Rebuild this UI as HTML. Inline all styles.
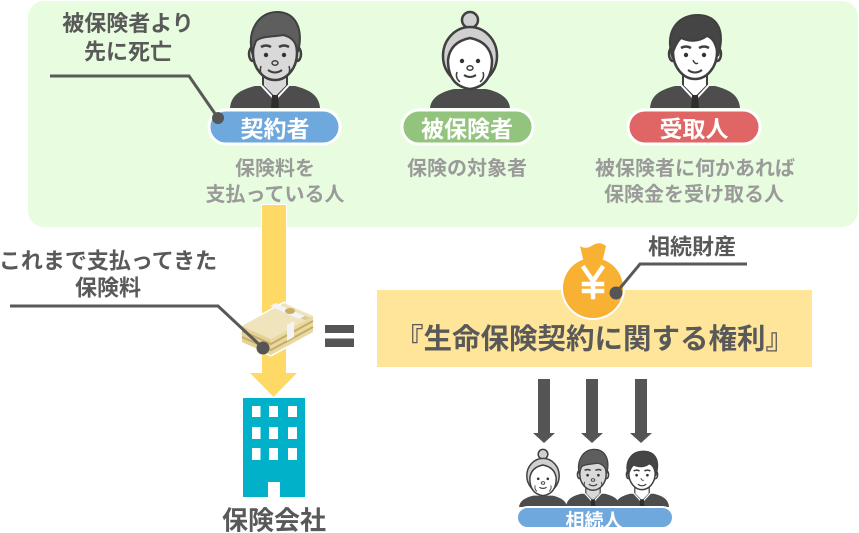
<!DOCTYPE html>
<html><head><meta charset="utf-8"><style>
html,body{margin:0;padding:0;background:#fff;}
svg{display:block;}
text{font-family:"Liberation Sans","Noto Sans CJK JP",sans-serif;font-weight:bold;}
</style></head><body>
<svg width="859" height="533" viewBox="0 0 859 533" xmlns="http://www.w3.org/2000/svg">
<defs>
 <g id="mo">
  <path d="M-45,0 C-44,-12 -36,-18 -20,-22 L20,-22 C36,-18 44,-12 45,0 Z" fill="#4d4d4d"/>
  <path d="M-12,-36 L-12,-22 L0,-10 L12,-22 L12,-36 Z" fill="#d9d9d9" stroke="#404040" stroke-width="2"/>
  <path d="M-14,-23 L0,-8 L14,-23" fill="none" stroke="#fff" stroke-width="2"/>
  <path d="M-3,-13 L3,-13 L4,0 L-4,0 Z" fill="#2e2e2e"/>
  <ellipse cx="-22" cy="-54" rx="4" ry="7" fill="#d9d9d9" stroke="#404040" stroke-width="2.5"/>
  <ellipse cx="22" cy="-54" rx="4" ry="7" fill="#d9d9d9" stroke="#404040" stroke-width="2.5"/>
  <ellipse cx="0" cy="-55" rx="22" ry="27" fill="#d9d9d9" stroke="#404040" stroke-width="2.5"/>
  <path d="M-23,-56 C-28,-78 -16,-96 2,-96 C20,-96 29,-80 23,-56 C21,-66 17,-71 8,-73 C-2,-71 -14,-72 -19,-67 Z" fill="#5e5e5e" stroke="#404040" stroke-width="2"/>
  <path d="M-14,-61 Q-9,-64 -4,-61 M4,-61 Q9,-64 14,-61" stroke="#404040" stroke-width="2.5" fill="none"/>
  <circle cx="-9" cy="-53" r="2.2" fill="#333"/><circle cx="9" cy="-53" r="2.2" fill="#333"/>
  <ellipse cx="0" cy="-45" rx="3" ry="2.2" fill="none" stroke="#404040" stroke-width="1.5"/>
  <path d="M-7,-38 Q0,-33 7,-38" fill="none" stroke="#404040" stroke-width="2"/>
  <path d="M-14,-42 Q-16,-36 -12,-32 M14,-42 Q16,-36 12,-32" fill="none" stroke="#404040" stroke-width="1.5"/>
 </g>
 <g id="wo">
  <path d="M-40,0 C-39,-10 -30,-16 -16,-19 L16,-19 C30,-16 39,-10 40,0 Z" fill="#4d4d4d"/>
  <circle cx="0" cy="-88" r="8" fill="#d0d0d0" stroke="#404040" stroke-width="2.5"/>
  <ellipse cx="0" cy="-52" rx="27" ry="29" fill="#d0d0d0" stroke="#404040" stroke-width="2.5"/>
  <path d="M-22,-48 Q-20,-66 0,-70 Q20,-66 22,-48 Q22,-22 0,-19 Q-22,-22 -22,-48 Z" fill="#fff" stroke="#404040" stroke-width="2.5"/>
  <circle cx="-8" cy="-47" r="2.2" fill="#333"/><circle cx="8" cy="-47" r="2.2" fill="#333"/>
  <ellipse cx="0" cy="-40" rx="3" ry="2.2" fill="none" stroke="#404040" stroke-width="1.5"/>
  <path d="M-6,-33 Q0,-29 6,-33" fill="none" stroke="#404040" stroke-width="2"/>
  <path d="M-13,-36 Q-15,-30 -10,-26 M13,-36 Q15,-30 10,-26" fill="none" stroke="#404040" stroke-width="1.5"/>
 </g>
 <g id="ym">
  <path d="M-45,0 C-44,-12 -36,-18 -20,-22 L20,-22 C36,-18 44,-12 45,0 Z" fill="#4d4d4d"/>
  <path d="M-12,-36 L-12,-22 L0,-10 L12,-22 L12,-36 Z" fill="#fff" stroke="#404040" stroke-width="2"/>
  <path d="M-14,-23 L0,-8 L14,-23" fill="none" stroke="#fff" stroke-width="2"/>
  <path d="M-3,-13 L3,-13 L4,0 L-4,0 Z" fill="#2e2e2e"/>
  <ellipse cx="-22" cy="-54" rx="4" ry="7" fill="#fff" stroke="#404040" stroke-width="2.5"/>
  <ellipse cx="22" cy="-54" rx="4" ry="7" fill="#fff" stroke="#404040" stroke-width="2.5"/>
  <ellipse cx="0" cy="-56" rx="22" ry="27" fill="#fff" stroke="#404040" stroke-width="2.5"/>
  <path d="M-23,-52 C-31,-80 -14,-94 4,-93 C22,-92 31,-78 23,-52 C21,-64 18,-70 12,-72 C4,-66 -6,-66 -14,-70 C-18,-66 -21,-60 -23,-52 Z" fill="#454545" stroke="#404040" stroke-width="2"/>
  <path d="M-14,-60 Q-9,-63 -4,-60 M4,-60 Q9,-63 14,-60" stroke="#404040" stroke-width="2.5" fill="none"/>
  <circle cx="-9" cy="-53" r="2.2" fill="#333"/><circle cx="9" cy="-53" r="2.2" fill="#333"/>
  <path d="M-2,-48 Q0,-43 3,-45" fill="none" stroke="#404040" stroke-width="1.5"/>
  <path d="M-7,-38 Q0,-33 7,-38" fill="none" stroke="#404040" stroke-width="2"/>
 </g>
</defs>

<!-- green panel -->
<rect x="28" y="1" width="830" height="226" rx="16" fill="#E8FDE0"/>

<!-- persons top -->
<use href="#mo" transform="translate(275,108)"/>
<use href="#wo" transform="translate(470,108)"/>
<use href="#ym" transform="translate(695,108)"/>

<!-- pills -->
<rect x="209" y="110" width="131" height="34" rx="17" fill="#6FA8DC" stroke="#fff" stroke-width="3"/>
<rect x="402" y="110" width="131" height="34" rx="17" fill="#93C47D" stroke="#fff" stroke-width="3"/>
<rect x="628" y="110" width="132" height="34" rx="17" fill="#E06666" stroke="#fff" stroke-width="3"/>
<text x="275" y="137" font-size="23" fill="#fff" text-anchor="middle">契約者</text>
<text x="467" y="137" font-size="23" fill="#fff" text-anchor="middle">被保険者</text>
<text x="694" y="137" font-size="23" fill="#fff" text-anchor="middle">受取人</text>

<!-- descriptions -->
<text x="275" y="175" font-size="20" fill="#9a9a9a" text-anchor="middle">保険料を</text>
<text x="275" y="201" font-size="20" fill="#9a9a9a" text-anchor="middle">支払っている人</text>
<text x="467" y="175" font-size="20" fill="#9a9a9a" text-anchor="middle">保険の対象者</text>
<text x="695" y="175" font-size="20" fill="#9a9a9a" text-anchor="middle">被保険者に何かあれば</text>
<text x="694" y="201" font-size="20" fill="#9a9a9a" text-anchor="middle">保険金を受け取る人</text>

<!-- label top-left -->
<text x="128" y="31" font-size="22" fill="#595959" text-anchor="middle">被保険者より</text>
<text x="128" y="59.5" font-size="22" fill="#595959" text-anchor="middle">先に死亡</text>
<polyline points="50,76 189,76 218,118" fill="none" stroke="#595959" stroke-width="3"/>
<circle cx="218" cy="118" r="6" fill="#555"/>

<!-- yellow arrow -->
<rect x="261" y="204" width="26" height="170" fill="#fff"/>
<rect x="262" y="205" width="24" height="169" fill="#FFD966"/>
<polygon points="250,373 297,373 273.5,397" fill="#FFD966"/>

<!-- money stack -->
<g stroke="#fff" stroke-width="3" stroke-linejoin="round">
 <polygon points="242,326 284,303 313,316 313,332 271,355 242,342" fill="#fff"/>
</g>
<polygon points="242,326 271,339 271,355 242,342" fill="#E3D196"/>
<polygon points="271,339 313,316 313,332 271,355" fill="#E8D8A2"/>
<polygon points="242,326 284,303 313,316 271,339" fill="#EFE4BC"/>
<g stroke="#C8AC68" stroke-width="2" fill="none">
 <path d="M242,331 L271,344 L313,321"/>
 <path d="M242,337 L271,350 L313,327"/>
</g>
<polygon points="276,307 281,305 310,318 305,320" fill="#C8AC68" opacity="0.5"/>
<polygon points="287,325 294,321 294,337 287,341" fill="#f4f4f4"/>
<polygon points="270,306 276,303 305,316 299,319" fill="#f4f4f4"/>
<ellipse cx="290" cy="311" rx="5" ry="3" fill="#C8AC68"/>
<polyline points="10,306 218,306 263,348" fill="none" stroke="#595959" stroke-width="3"/>
<circle cx="263" cy="348" r="6.5" fill="#555"/>
<text x="108" y="268.5" font-size="22" fill="#595959" text-anchor="middle">これまで支払ってきた</text>
<text x="108" y="295.5" font-size="22" fill="#595959" text-anchor="middle">保険料</text>

<!-- equals -->
<rect x="325" y="325" width="29" height="8" fill="#555"/>
<rect x="325" y="338.5" width="29" height="8.5" fill="#555"/>

<!-- building -->
<rect x="243" y="398" width="62" height="99" fill="#00B1C9"/>
<g fill="#fff">
 <rect x="252" y="406" width="8.5" height="11"/><rect x="269" y="406" width="9" height="11"/><rect x="288" y="406" width="9" height="11"/>
 <rect x="252" y="427" width="8.5" height="12"/><rect x="269" y="427" width="9" height="12"/><rect x="288" y="427" width="9" height="12"/>
 <rect x="252" y="448" width="8.5" height="12"/><rect x="269" y="448" width="9" height="12"/><rect x="288" y="448" width="9" height="12"/>
 <rect x="268" y="482" width="12" height="15"/>
</g>
<text x="274" y="529.5" font-size="26" fill="#595959" text-anchor="middle">保険会社</text>

<!-- yellow box -->
<rect x="377" y="290" width="435" height="77" fill="#FFE599"/>
<text x="594.5" y="348.5" font-size="28.5" fill="#595959" text-anchor="middle">『生命保険契約に関する権利』</text>

<!-- money bag -->
<g stroke="#fff" stroke-width="4" stroke-linejoin="round">
 <circle cx="593" cy="288" r="30" fill="#fff"/>
 <path d="M584,263 L580,246 Q586,250 593,245 Q600,241 606,246 L602,263 Z" fill="#fff"/>
</g>
<circle cx="593" cy="288" r="30" fill="#F8B133"/>
<path d="M584,263 L580,246 Q586,250 593,245 Q600,241 606,246 L602,263 Z" fill="#F8B133"/>
<g stroke="#fff" stroke-width="4.5" fill="none" stroke-linecap="square">
 <path d="M584,268 L593,281 L602,268"/>
 <path d="M593,281 L593,297"/>
 <path d="M584,284 L602,284 M584,291 L602,291"/>
</g>
<polyline points="616,293 640,264 747,264" fill="none" stroke="#595959" stroke-width="3"/>
<circle cx="616" cy="293" r="6.5" fill="#555"/>
<text x="692" y="254.5" font-size="22" fill="#595959" text-anchor="middle">相続財産</text>

<!-- down arrows -->
<g fill="#555">
 <rect x="538" y="379" width="12" height="55"/><polygon points="533,433 555,433 544,443"/>
 <rect x="586" y="379" width="12" height="55"/><polygon points="581,433 603,433 592,443"/>
 <rect x="635" y="379" width="12" height="55"/><polygon points="630,433 652,433 641,443"/>
</g>

<!-- heirs -->
<use href="#wo" transform="translate(543,507) scale(0.6)"/>
<use href="#mo" transform="translate(593,507) scale(0.6)"/>
<use href="#ym" transform="translate(642,507) scale(0.6)"/>
<rect x="517" y="507" width="156" height="21" rx="10.5" fill="#6FA8DC" stroke="#fff" stroke-width="2"/>
<text x="594" y="527" font-size="19" fill="#fff" text-anchor="middle">相続人</text>
</svg>
</body></html>
